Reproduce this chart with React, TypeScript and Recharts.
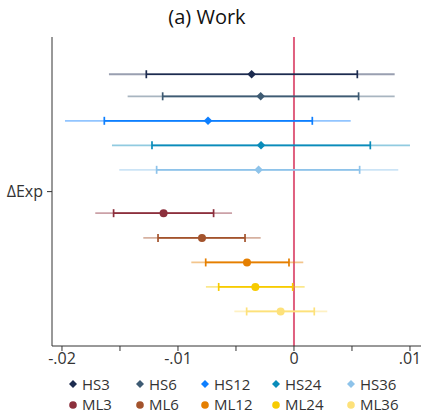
import { ScatterChart, Scatter, XAxis, YAxis, ErrorBar, ReferenceLine } from "recharts";

// series, top to bottom
const labels = ["HS3", "HS6", "HS12", "HS24", "HS36", "ML3", "ML6", "ML12", "ML24", "ML36"];
const rowPos = [0, 0.9, 1.9, 2.9, 3.9, 5.67, 6.68, 7.68, 8.68, 9.68];
const estimates = [-0.00365, -0.00287, -0.00741, -0.00284, -0.00305, -0.01124, -0.00793, -0.00405, -0.00333, -0.00115];
const innerLow = [-0.01273, -0.01132, -0.01635, -0.01224, -0.01184, -0.01555, -0.01172, -0.00761, -0.00649, -0.00408];
const innerHigh = [0.00546, 0.00557, 0.00158, 0.00658, 0.00566, -0.00693, -0.00422, -0.00043, -0.00011, 0.00175];
const outerLow = [-0.01595, -0.01434, -0.01974, -0.01569, -0.01506, -0.01713, -0.01299, -0.00885, -0.00759, -0.00514];
const outerHigh = [0.00868, 0.00868, 0.00489, 0.01, 0.00899, -0.00534, -0.00287, 0.0008, 0.00092, 0.00287];
const colors = ["#1c2b4f", "#3e5b73", "#0d7fff", "#0a8cba", "#8ec3ea", "#8c2f3c", "#a3532c", "#e57f00", "#f7cb00", "#fde17a"];

const xTicks = [-0.02, -0.015, -0.01, -0.005, 0, 0.005, 0.01];
const xTickLabels: Record<string, string> = { "-0.02": "-.02", "-0.01": "-.01", "0": "0", "0.01": ".01" };
const yTickPos = 4.79;
const yTickLabel = "ΔExp";

const FONT = "'Open Sans', sans-serif";

const Diamond = (props: any) => {
  const { cx, cy, fill } = props;
  const r = 4.3;
  return <polygon points={`${cx},${cy - r} ${cx + r},${cy} ${cx},${cy + r} ${cx - r},${cy}`} fill={fill} />;
};

const Dot = (props: any) => {
  const { cx, cy, fill } = props;
  return <circle cx={cx} cy={cy} r={4} fill={fill} />;
};

export default function App() {
  const series = labels.map((name, i) => ({
    name,
    color: colors[i],
    diamond: name.startsWith("HS"),
    data: [
      {
        x: estimates[i],
        y: rowPos[i],
        outer: [estimates[i] - outerLow[i], outerHigh[i] - estimates[i]],
        inner: [estimates[i] - innerLow[i], innerHigh[i] - estimates[i]],
      },
    ],
  }));

  const colWidths = [67, 65, 71, 75, 70];

  return (
    <div style={{ position: "absolute", left: 0, top: 0, width: 421, height: 415, fontFamily: FONT, background: "#fff" }}>
      <div style={{ position: "absolute", left: 0, width: 414, top: 4, textAlign: "center", fontSize: 20, color: "#111", lineHeight: "26px" }}>
        (a) Work
      </div>
      <ScatterChart width={421} height={415} margin={{ top: 37, right: 0, bottom: 39, left: 0 }}>
        <XAxis
          type="number"
          dataKey="x"
          domain={[-0.02086, 0.01095]}
          allowDataOverflow
          ticks={xTicks}
          interval={0}
          tickFormatter={(v: number) => xTickLabels[String(v)] ?? ""}
          tick={{ fontSize: 16, fill: "#333", fontFamily: FONT }}
          tickSize={5}
          tickMargin={2}
          height={30}
          stroke="#333"
        />
        <YAxis
          type="number"
          dataKey="y"
          domain={[-1.52, 11.09]}
          reversed
          allowDataOverflow
          ticks={[yTickPos]}
          tickFormatter={() => yTickLabel}
          tick={{ fontSize: 16, fill: "#333", fontFamily: FONT }}
          tickSize={5}
          tickMargin={4}
          width={52}
          stroke="#333"
        />
        <ReferenceLine x={0} stroke="#e0607f" strokeWidth={2} ifOverflow="visible" />
        {series.map((s) => (
          <Scatter
            key={s.name}
            name={s.name}
            data={s.data}
            fill={s.color}
            shape={s.diamond ? Diamond : Dot}
            isAnimationActive={false}
          >
            <ErrorBar dataKey="outer" direction="x" width={0} stroke={s.color} strokeWidth={1.8} strokeOpacity={0.45} isAnimationActive={false} />
            <ErrorBar dataKey="inner" direction="x" width={4} stroke={s.color} strokeWidth={1.7} isAnimationActive={false} />
          </Scatter>
        ))}
      </ScatterChart>
      <div style={{ position: "absolute", left: 67, top: 374, fontSize: 15, color: "#333", lineHeight: "20.4px" }}>
        {[0, 1].map((row) => (
          <div key={row} style={{ display: "flex", height: 20.4 }}>
            {series.slice(row * 5, row * 5 + 5).map((s, j) => (
              <div key={s.name} style={{ width: colWidths[j], display: "flex", alignItems: "center", whiteSpace: "nowrap" }}>
                <svg width={12} height={12} style={{ marginRight: 3 }}>
                  {s.diamond ? (
                    <polygon points="6,2 10,6 6,10 2,6" fill={s.color} />
                  ) : (
                    <circle cx={6} cy={6} r={3.8} fill={s.color} />
                  )}
                </svg>
                <span>{s.name}</span>
              </div>
            ))}
          </div>
        ))}
      </div>
    </div>
  );
}
